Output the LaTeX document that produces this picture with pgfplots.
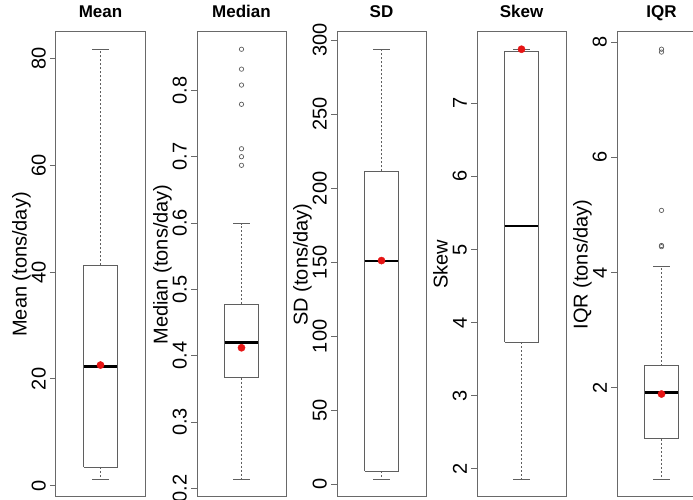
\documentclass[border=0pt]{standalone}
\usepackage{pgfplots}
\pgfplotsset{compat=1.18}
\usepackage{fontspec}
\setmainfont{Liberation Sans}
\definecolor{framegray}{RGB}{105,105,105}
\definecolor{boxgray}{RGB}{95,95,95}
\definecolor{ptred}{RGB}{230,20,20}
\pgfplotsset{
  panel/.style={
    scale only axis, width=89pt, height=465pt,
    anchor=south west,
    xmin=0.5, xmax=1.5, xtick=\empty,
    axis line style={framegray, line width=1pt},
    ytick pos=left, tick align=outside, major tick length=6pt,
    ytick style={framegray, line width=1pt},
    /pgf/number format/assume math mode=true,
    /pgf/number format/fixed,
    yticklabel style={rotate=90, anchor=south, inner sep=0pt,
      font=\fontsize{20}{24}\selectfont},
    yticklabel shift=4pt,
    ylabel style={at={(axis description cs:-0.33,0.5)}, anchor=base,
      rotate=0, font=\fontsize{20}{24}\selectfont, inner sep=0pt},
    title style={at={(axis description cs:0.5,1)}, anchor=base, yshift=8pt,
      font=\fontsize{17}{20}\selectfont\bfseries},
    clip=false,
  },
  boxs/.style={draw=boxgray, line width=0.9pt, line join=miter, no marks},
  whisk/.style={draw=boxgray, line width=0.9pt, dash pattern=on 2pt off 2pt, no marks},
  cap/.style={draw=boxgray, line width=0.9pt, solid, no marks},
  med/.style={draw=black, line width=2.6pt, no marks},
  outl/.style={only marks, mark=o, mark size=2.2pt, mark options={draw=boxgray, line width=0.7pt}},
  meanpt/.style={only marks, mark=*, mark size=3.6pt, mark options={draw=ptred, fill=ptred}},
}
\begin{document}
\begin{tikzpicture}
\path[use as bounding box] (0pt,0pt) rectangle (693pt,500pt);
\clip (0pt,0pt) rectangle (693pt,500pt);

% ---------- Mean ----------
\begin{axis}[panel, at={(56pt,3pt)}, ymin=-2.13, ymax=85.03,
  ytick={0,20,40,60,80}, ylabel={Mean (tons/day)}, title={Mean}]
\addplot[whisk] coordinates {(1,3.5) (1,1.1)};
\addplot[whisk] coordinates {(1,41.3) (1,81.8)};
\addplot[cap] coordinates {(0.905,1.1) (1.095,1.1)};
\addplot[cap] coordinates {(0.905,81.8) (1.095,81.8)};
\addplot[boxs] coordinates {(0.81,3.5) (1.19,3.5) (1.19,41.3) (0.81,41.3) (0.81,3.5)};
\addplot[med] coordinates {(0.81,22.3) (1.19,22.3)};
\addplot[meanpt] coordinates {(1,22.6)};
\end{axis}

% ---------- Median ----------
\begin{axis}[panel, at={(197pt,3pt)}, ymin=0.187, ymax=0.888,
  ytick={0.2,0.3,0.4,0.5,0.6,0.7,0.8}, ylabel={Median (tons/day)}, title={Median}]
\addplot[whisk] coordinates {(1,0.367) (1,0.213)};
\addplot[whisk] coordinates {(1,0.478) (1,0.599)};
\addplot[cap] coordinates {(0.905,0.213) (1.095,0.213)};
\addplot[cap] coordinates {(0.905,0.599) (1.095,0.599)};
\addplot[boxs] coordinates {(0.81,0.367) (1.19,0.367) (1.19,0.478) (0.81,0.478) (0.81,0.367)};
\addplot[med] coordinates {(0.81,0.42) (1.19,0.42)};
\addplot[outl] coordinates {(1,0.687) (1,0.700) (1,0.712) (1,0.779) (1,0.808) (1,0.832) (1,0.862)};
\addplot[meanpt] coordinates {(1,0.412)};
\end{axis}

% ---------- SD ----------
\begin{axis}[panel, at={(337pt,3pt)}, ymin=-8.5, ymax=305.6,
  ytick={0,50,100,150,200,250,300}, ylabel={SD (tons/day)}, title={SD}]
\addplot[whisk] coordinates {(1,8.8) (1,3.1)};
\addplot[whisk] coordinates {(1,211.5) (1,294)};
\addplot[cap] coordinates {(0.905,3.1) (1.095,3.1)};
\addplot[cap] coordinates {(0.905,294) (1.095,294)};
\addplot[boxs] coordinates {(0.81,8.8) (1.19,8.8) (1.19,211.5) (0.81,211.5) (0.81,8.8)};
\addplot[med] coordinates {(0.81,150.8) (1.19,150.8)};
\addplot[meanpt] coordinates {(1,151.2)};
\end{axis}

% ---------- Skew ----------
\begin{axis}[panel, at={(477pt,3pt)}, ymin=1.614, ymax=7.976,
  ytick={2,3,4,5,6,7}, ylabel={Skew}, title={Skew}]
\addplot[whisk] coordinates {(1,3.73) (1,1.85)};
\addplot[whisk] coordinates {(1,7.71) (1,7.74)};
\addplot[cap] coordinates {(0.905,1.85) (1.095,1.85)};
\addplot[cap] coordinates {(0.905,7.74) (1.095,7.74)};
\addplot[boxs] coordinates {(0.81,3.73) (1.19,3.73) (1.19,7.71) (0.81,7.71) (0.81,3.73)};
\addplot[med] coordinates {(0.81,5.32) (1.19,5.32)};
\addplot[meanpt] coordinates {(1,7.74)};
\end{axis}

% ---------- IQR ----------
\begin{axis}[panel, at={(617pt,3pt)}, ymin=0.101, ymax=8.179,
  ytick={2,4,6,8}, ylabel={IQR (tons/day)}, title={IQR}]
\addplot[whisk] coordinates {(1,1.11) (1,0.40)};
\addplot[whisk] coordinates {(1,2.38) (1,4.10)};
\addplot[cap] coordinates {(0.905,0.40) (1.095,0.40)};
\addplot[cap] coordinates {(0.905,4.10) (1.095,4.10)};
\addplot[boxs] coordinates {(0.81,1.11) (1.19,1.11) (1.19,2.38) (0.81,2.38) (0.81,1.11)};
\addplot[med] coordinates {(0.81,1.92) (1.19,1.92)};
\addplot[outl] coordinates {(1,4.45) (1,4.47) (1,5.08) (1,7.83) (1,7.88)};
\addplot[meanpt] coordinates {(1,1.89)};
\end{axis}
\end{tikzpicture}
\end{document}
